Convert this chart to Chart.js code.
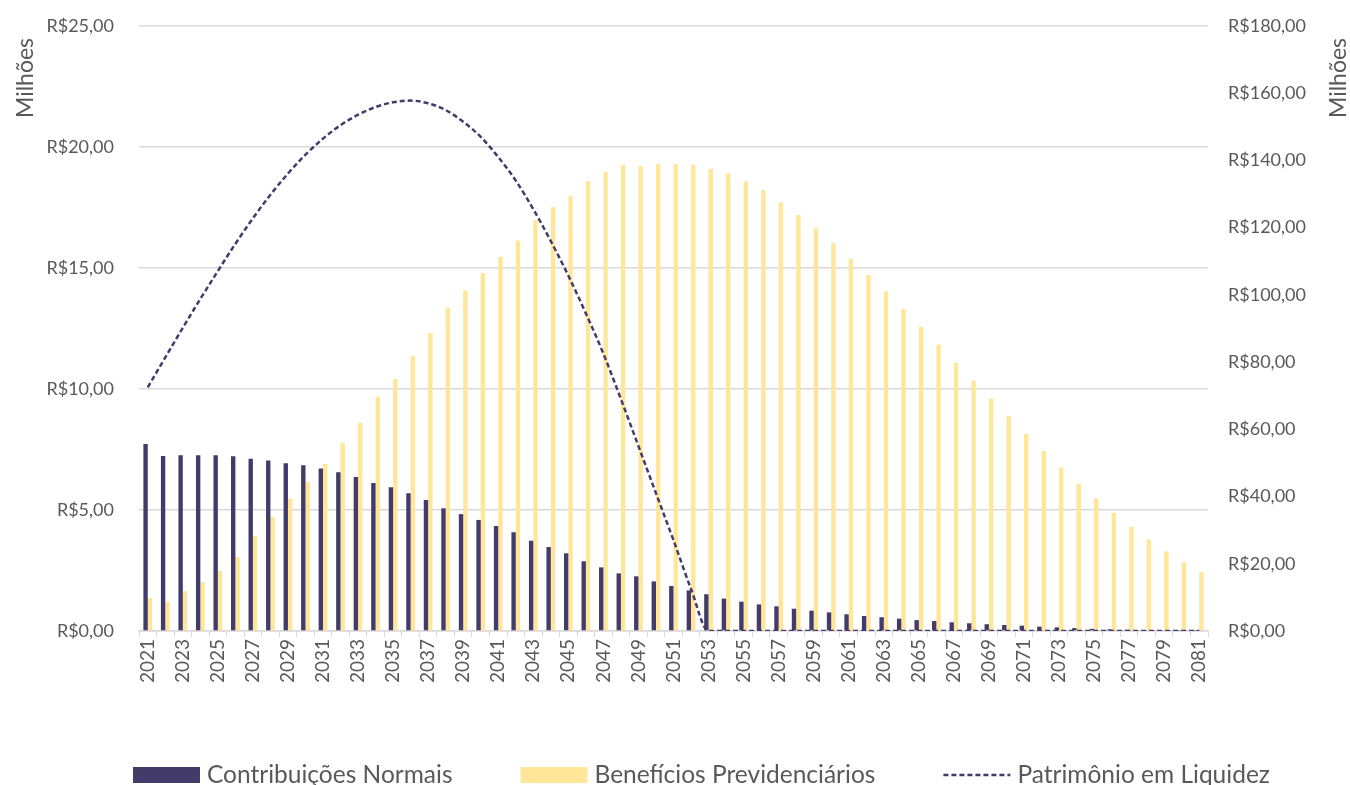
<!DOCTYPE html>
<html>
<head>
<meta charset="utf-8">
<script src="https://cdn.jsdelivr.net/npm/chart.js@4.4.1/dist/chart.umd.min.js"></script>
<style>
    html, body { margin: 0; padding: 0; background: #fff; }
    #wrap { width: 1350px; height: 785px; }
</style>
</head>
<body>
<div id="wrap"><canvas id="myChart"></canvas></div>
<script>
var anos = ['2021', '2022', '2023', '2024', '2025', '2026', '2027', '2028', '2029', '2030',
    '2031', '2032', '2033', '2034', '2035', '2036', '2037', '2038', '2039', '2040',
    '2041', '2042', '2043', '2044', '2045', '2046', '2047', '2048', '2049', '2050',
    '2051', '2052', '2053', '2054', '2055', '2056', '2057', '2058', '2059', '2060',
    '2061', '2062', '2063', '2064', '2065', '2066', '2067', '2068', '2069', '2070',
    '2071', '2072', '2073', '2074', '2075', '2076', '2077', '2078', '2079', '2080', '2081']

// milhoes de R$ (eixo esquerdo)
var contribuicoes = [7.73, 7.23, 7.26, 7.26, 7.26, 7.22, 7.12, 7.05, 6.93, 6.85,
    6.71, 6.56, 6.36, 6.12, 5.94, 5.69, 5.41, 5.07, 4.83, 4.59,
    4.34, 4.08, 3.73, 3.47, 3.21, 2.88, 2.63, 2.38, 2.26, 2.05,
    1.86, 1.68, 1.52, 1.34, 1.21, 1.10, 1.02, 0.92, 0.84, 0.77,
    0.69, 0.62, 0.57, 0.51, 0.45, 0.41, 0.36, 0.32, 0.28, 0.25,
    0.22, 0.18, 0.15, 0.12, 0.09, 0.07, 0.05, 0.04, 0.03, 0.02, 0.01]

var beneficios = [1.36, 1.21, 1.65, 2.02, 2.48, 3.06, 3.93, 4.71, 5.48, 6.16,
    6.90, 7.77, 8.61, 9.68, 10.41, 11.36, 12.31, 13.36, 14.08, 14.79,
    15.45, 16.14, 16.98, 17.51, 17.96, 18.60, 18.97, 19.26, 19.21, 19.30,
    19.30, 19.27, 19.09, 18.93, 18.58, 18.21, 17.71, 17.19, 16.64, 16.02,
    15.38, 14.71, 14.04, 13.31, 12.57, 11.83, 11.07, 10.34, 9.60, 8.86,
    8.14, 7.44, 6.76, 6.10, 5.48, 4.88, 4.31, 3.79, 3.29, 2.84, 2.44]

// milhoes de R$ (eixo direito)
var patrimonio = [72.5, 81.4, 90.2, 98.8, 107.1, 115.2, 122.8, 129.8, 136.1, 141.7,
    146.5, 150.5, 153.6, 155.9, 157.3, 157.8, 157.0, 155.0, 151.5, 147.0,
    141.0, 134.0, 125.5, 116.0, 105.7, 94.5, 82.5, 69.0, 55.0, 41.0,
    27.0, 12.5, 0, 0, 0, 0, 0, 0, 0, 0,
    0, 0, 0, 0, 0, 0, 0, 0, 0, 0,
    0, 0, 0, 0, 0, 0, 0, 0, 0, 0, 0]

var COR_ESCURA = '#433c6b'
var COR_CLARA = '#ffe699'
var COR_TEXTO = '#595959'
var FONTE = 'Lato, "Open Sans", sans-serif'

function reais(v) {
    return 'R$' + v.toFixed(2).replace('.', ',')
}

// o chart.js reserva espaco extra em cima pros labels, aqui tiro isso
function ajustaEixoY(largura) {
    return function (s) {
        s.width = largura
        s.paddingTop = 0
        s.paddingBottom = 0
    }
}

// titulos "Milhões" dos dois eixos, ambos lidos de baixo pra cima
var titulosEixos = {
    id: 'titulosEixos',
    afterDraw: function (chart) {
        var ctx = chart.ctx
        var pos = [[26, 78], [1339, 78]]
        ctx.save()
        ctx.fillStyle = COR_TEXTO
        ctx.font = '23px ' + FONTE
        ctx.textAlign = 'center'
        ctx.textBaseline = 'middle'
        pos.forEach(function (p) {
            ctx.save()
            ctx.translate(p[0], p[1])
            ctx.rotate(-Math.PI / 2)
            ctx.fillText('Milhões', 0, 0)
            ctx.restore()
        })
        ctx.restore()
    }
}

// legenda desenhada na mao pra ficar igual ao excel
var legendaManual = {
    id: 'legendaManual',
    afterDraw: function (chart) {
        var ctx = chart.ctx
        var y = 775
        var x = 133
        var gap = 68
        ctx.save()
        ctx.font = '24.5px ' + FONTE
        ctx.textBaseline = 'middle'
        ctx.fillStyle = COR_TEXTO
        var ordem = [1, 2, 0]
        ordem.forEach(function (i) {
            var ds = chart.data.datasets[i]
            if (ds.type === 'line') {
                ctx.save()
                ctx.strokeStyle = ds.borderColor
                ctx.lineWidth = ds.borderWidth
                ctx.setLineDash(ds.borderDash)
                ctx.beginPath()
                ctx.moveTo(x, y)
                ctx.lineTo(x + 67, y)
                ctx.stroke()
                ctx.restore()
            } else {
                ctx.fillStyle = ds.backgroundColor
                ctx.fillRect(x, y - 8, 67, 16)
            }
            ctx.fillStyle = COR_TEXTO
            ctx.fillText(ds.label, x + 74, y)
            x += 74 + ctx.measureText(ds.label).width + gap
        })
        ctx.restore()
    }
}

var ctx = document.getElementById('myChart').getContext('2d')
var chart = new Chart(ctx, {
    type: 'bar',
    data: {
        labels: anos,
        datasets: [{
            type: 'line',
            label: 'Patrimônio em Liquidez',
            data: patrimonio,
            yAxisID: 'y1',
            borderColor: COR_ESCURA,
            borderWidth: 2.5,
            borderDash: [5, 3],
            pointRadius: 0,
            fill: false,
            cubicInterpolationMode: 'monotone',
            order: 0
        }, {
            label: 'Contribuições Normais',
            data: contribuicoes,
            yAxisID: 'y',
            backgroundColor: COR_ESCURA,
            categoryPercentage: 0.5,
            barPercentage: 1,
            order: 1
        }, {
            label: 'Benefícios Previdenciários',
            data: beneficios,
            yAxisID: 'y',
            backgroundColor: COR_CLARA,
            categoryPercentage: 0.5,
            barPercentage: 1,
            order: 1
        }]
    },
    options: {
        responsive: true,
        maintainAspectRatio: false,
        animation: false,
        layout: {
            padding: { top: 26, left: 0, right: 0, bottom: 0 }
        },
        plugins: {
            legend: { display: false },
            tooltip: { enabled: false }
        },
        scales: {
            x: {
                offset: true,
                grid: {
                    offset: true,
                    drawOnChartArea: false,
                    color: '#d9d9d9',
                    tickLength: 6
                },
                border: { color: '#d9d9d9', width: 1.5 },
                ticks: {
                    autoSkip: false,
                    minRotation: 90,
                    maxRotation: 90,
                    padding: 2,
                    color: COR_TEXTO,
                    font: { family: FONTE, size: 19 },
                    callback: function (v, i) {
                        return i % 2 === 0 ? anos[i] : ''
                    }
                },
                afterFit: function (s) { s.height = 154 }
            },
            y: {
                position: 'left',
                min: 0,
                max: 25,
                grid: { color: '#d9d9d9', lineWidth: 1.5, drawTicks: false },
                border: { display: false },
                ticks: {
                    stepSize: 5,
                    padding: 25,
                    color: COR_TEXTO,
                    font: { family: FONTE, size: 18 },
                    callback: function (v) { return reais(v) }
                },
                afterFit: ajustaEixoY(139)
            },
            y1: {
                position: 'right',
                min: 0,
                max: 180,
                grid: { drawOnChartArea: false, drawTicks: false },
                border: { display: false },
                ticks: {
                    stepSize: 20,
                    padding: 20,
                    color: COR_TEXTO,
                    font: { family: FONTE, size: 18 },
                    callback: function (v) { return reais(v) }
                },
                afterFit: ajustaEixoY(142)
            }
        }
    },
    plugins: [titulosEixos, legendaManual]
})
</script>
</body>
</html>
